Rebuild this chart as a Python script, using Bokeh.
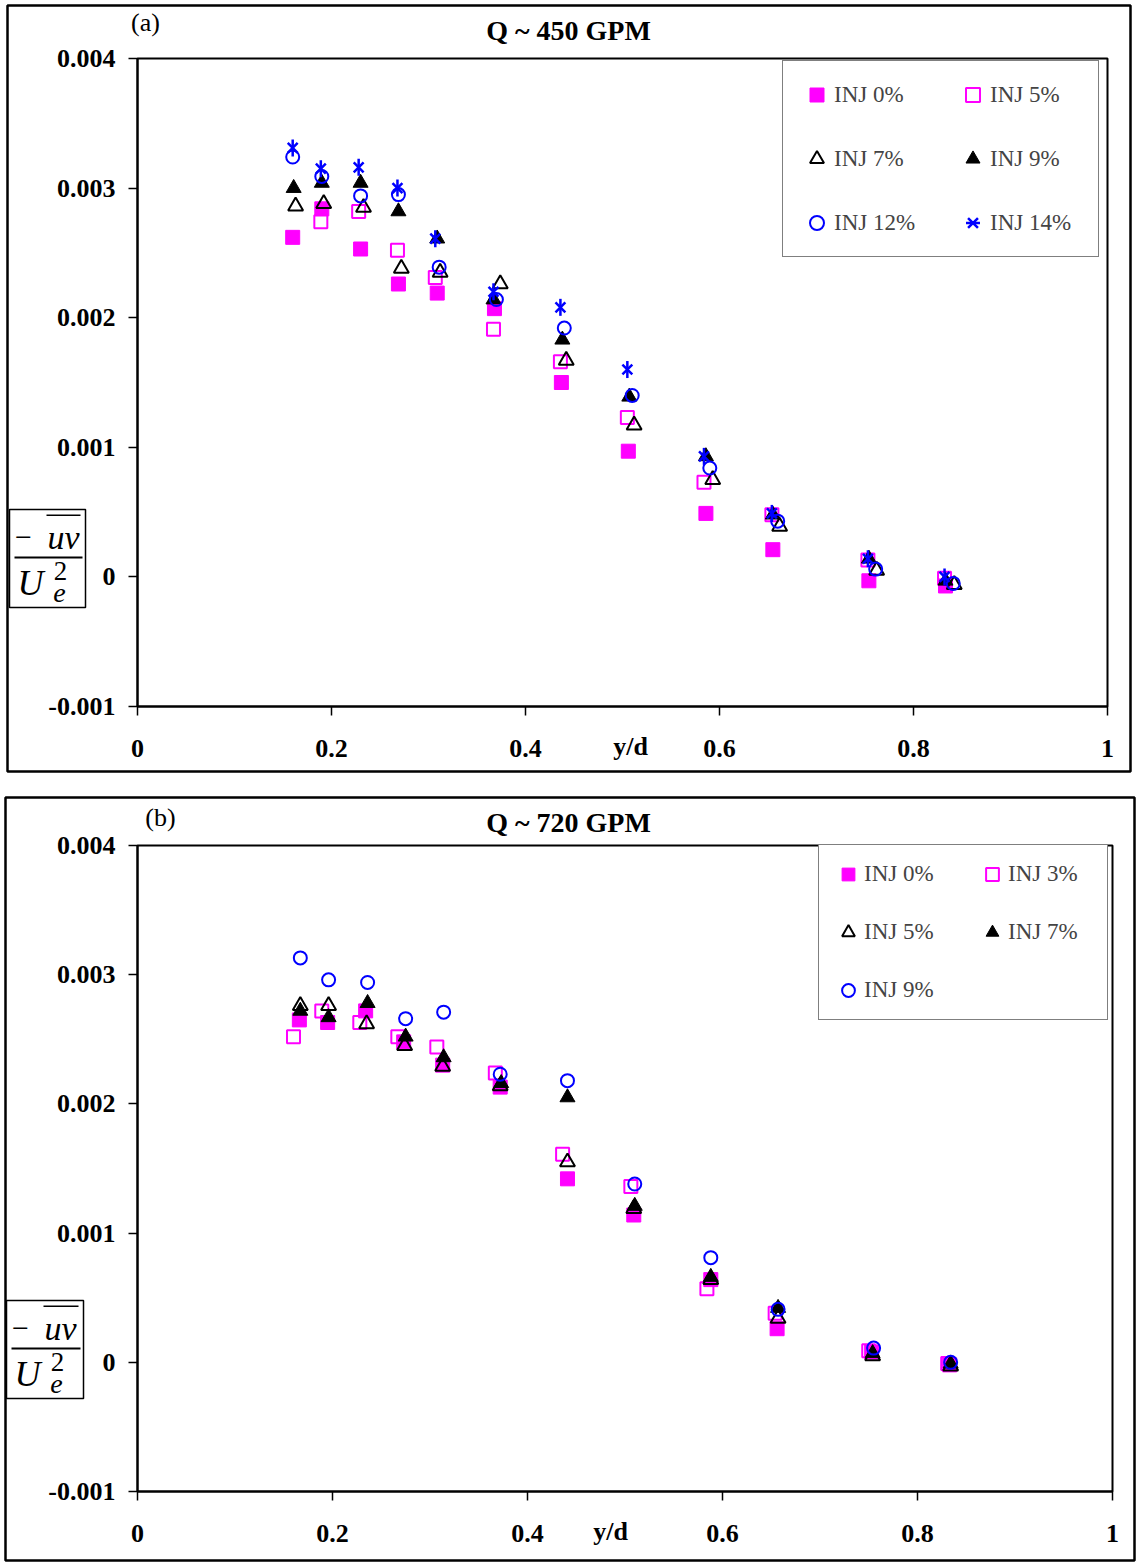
import math
from bokeh.plotting import figure
from bokeh.models import Range1d, FixedTicker, Legend, LegendItem, Label, BoxAnnotation, GridBox
from bokeh.layouts import column
from bokeh.embed import file_html
from bokeh.resources import INLINE

MAG = "#FF00FF"
BLUE = "#0000FF"
BLK = "#000000"
FONT = "Liberation Serif"

# ---------------- data: panel (a) Q ~ 450 GPM ----------------
a_inj0_x = [0.160, 0.190, 0.230, 0.269, 0.309, 0.368, 0.437, 0.506, 0.586, 0.655, 0.754, 0.833]
a_inj0_y = [0.00262, 0.00284, 0.00253, 0.00226, 0.00219, 0.00207, 0.00150, 0.00097, 0.00049, 0.00021, -0.00003, -0.00007]
a_inj5_x = [0.189, 0.228, 0.268, 0.307, 0.367, 0.436, 0.505, 0.584, 0.654, 0.753, 0.832]
a_inj5_y = [0.00274, 0.00282, 0.00252, 0.00231, 0.00191, 0.00166, 0.00123, 0.00073, 0.00048, 0.00013, -0.00001]
a_inj7_x = [0.163, 0.192, 0.233, 0.272, 0.312, 0.374, 0.442, 0.512, 0.593, 0.662, 0.762, 0.842]
a_inj7_y = [0.00286, 0.00288, 0.00285, 0.00238, 0.00235, 0.00226, 0.00167, 0.00117, 0.00075, 0.00039, 0.00005, -0.00006]
a_inj9_x = [0.161, 0.190, 0.230, 0.269, 0.309, 0.367, 0.438, 0.507, 0.586, 0.655, 0.754, 0.833]
a_inj9_y = [0.00300, 0.00304, 0.00304, 0.00282, 0.00261, 0.00214, 0.00183, 0.00139, 0.00093, 0.00048, 0.00014, -0.00003]
a_inj12_x = [0.160, 0.190, 0.230, 0.269, 0.311, 0.370, 0.440, 0.510, 0.590, 0.660, 0.761, 0.841]
a_inj12_y = [0.00324, 0.00309, 0.00294, 0.00295, 0.00239, 0.00214, 0.00192, 0.00140, 0.00084, 0.00043, 0.00006, -0.00005]
a_inj14_x = [0.160, 0.189, 0.228, 0.268, 0.307, 0.367, 0.436, 0.505, 0.584, 0.654, 0.753, 0.832]
a_inj14_y = [0.00331, 0.00315, 0.00316, 0.00300, 0.00261, 0.00220, 0.00208, 0.00160, 0.00093, 0.00049, 0.00014, 0.00000]

# ---------------- data: panel (b) Q ~ 720 GPM ----------------
b_inj0_x = [0.166, 0.195, 0.234, 0.273, 0.313, 0.372, 0.441, 0.509, 0.588, 0.656, 0.753, 0.833]
b_inj0_y = [0.00265, 0.00263, 0.00272, 0.00248, 0.00230, 0.00213, 0.00142, 0.00114, 0.00064, 0.00026, 0.00008, -0.00002]
b_inj3_x = [0.160, 0.189, 0.228, 0.267, 0.307, 0.367, 0.436, 0.506, 0.584, 0.654, 0.750, 0.831]
b_inj3_y = [0.00252, 0.00272, 0.00263, 0.00252, 0.00244, 0.00224, 0.00161, 0.00136, 0.00057, 0.00038, 0.00009, -0.00001]
b_inj5_x = [0.167, 0.196, 0.235, 0.274, 0.313, 0.372, 0.441, 0.509, 0.588, 0.657, 0.754, 0.834]
b_inj5_y = [0.00276, 0.00276, 0.00262, 0.00245, 0.00229, 0.00214, 0.00155, 0.00119, 0.00064, 0.00034, 0.00005, -0.00003]
b_inj7_x = [0.167, 0.196, 0.236, 0.275, 0.314, 0.373, 0.441, 0.510, 0.588, 0.657, 0.754, 0.834]
b_inj7_y = [0.00272, 0.00267, 0.00278, 0.00252, 0.00236, 0.00216, 0.00205, 0.00121, 0.00066, 0.00042, 0.00007, -0.00001]
b_inj9_x = [0.167, 0.196, 0.236, 0.275, 0.314, 0.372, 0.441, 0.510, 0.588, 0.657, 0.755, 0.834]
b_inj9_y = [0.00313, 0.00296, 0.00294, 0.00266, 0.00271, 0.00223, 0.00218, 0.00138, 0.00081, 0.00041, 0.00011, 0.00000]

y_ticks = [-0.001, 0.0, 0.001, 0.002, 0.003, 0.004]
y_tick_labels = ["-0.001", "0", "0.001", "0.002", "0.003", "0.004"]
x_ticks = [0.0, 0.2, 0.4, 0.6, 0.8, 1.0]
x_tick_labels = ["0", "0.2", "0.4", "0.6", "0.8", "1"]

W = 1136


def draw_series(p, x, y, style):
    rs = []
    if style == "fsq":
        rs.append(p.scatter(x, y, marker="square", size=14, fill_color=MAG, line_color=MAG, line_width=1))
    elif style == "osq":
        rs.append(p.scatter(x, y, marker="square", size=13, fill_color=None, line_color=MAG, line_width=2))
    elif style == "otri":
        rs.append(p.scatter(x, y, marker="triangle", size=15, fill_color=None, line_color=BLK, line_width=2))
    elif style == "ftri":
        rs.append(p.scatter(x, y, marker="triangle", size=15, fill_color=BLK, line_color=BLK, line_width=1))
    elif style == "ocir":
        rs.append(p.scatter(x, y, marker="circle", size=13, fill_color=None, line_color=BLUE, line_width=2))
    elif style == "star":
        rs.append(p.scatter(x, y, marker="x", size=14, line_color=BLUE, line_width=2.5))
        rs.append(p.scatter(x, y, marker="dash", size=17, angle=math.pi / 2, line_color=BLUE, line_width=2.5))
    return rs


def make_panel(height, frame_top, frame_bottom, right_margin, series, legend_order, leg):
    p = figure(width=W, height=height, output_backend="svg", toolbar_location=None,
               title=None, x_range=Range1d(0, 1), y_range=Range1d(-0.001, 0.004),
               min_border_left=137, min_border_right=right_margin,
               min_border_top=frame_top, min_border_bottom=height - frame_bottom,
               background_fill_color="white", border_fill_color="white")
    p.xgrid.visible = False
    p.ygrid.visible = False
    p.outline_line_color = BLK
    p.outline_line_width = 2
    p.outline_line_alpha = 1

    for ax, ticks, labels in ((p.xaxis[0], x_ticks, x_tick_labels), (p.yaxis[0], y_ticks, y_tick_labels)):
        ax.ticker = FixedTicker(ticks=ticks)
        ax.major_label_overrides = {t: s for t, s in zip(ticks, labels)}
        ax.axis_line_color = BLK
        ax.axis_line_width = 2
        ax.major_tick_line_color = BLK
        ax.major_tick_line_width = 1.5
        ax.major_tick_out = 9
        ax.major_tick_in = 0
        ax.minor_tick_line_color = None
        ax.major_label_text_font = FONT
        ax.major_label_text_font_style = "bold"
        ax.major_label_text_font_size = "26px"
        ax.major_label_text_color = BLK
    p.xaxis.major_label_standoff = 24
    p.yaxis.major_label_standoff = 13

    items = []
    for (x, y, style, label) in series:
        rs = draw_series(p, x, y, style)
        items.append(LegendItem(label=label, renderers=rs))
    items = [items[i] for i in legend_order]

    legend = Legend(items=items, ncols=2, location=leg["loc"],
                    glyph_width=leg["g"], glyph_height=leg["g"], spacing=leg["s"],
                    padding=leg["p"], label_width=leg["lw"], label_standoff=0, margin=0,
                    label_text_font=FONT, label_text_font_size=leg["fs"],
                    border_line_color=BLK, border_line_width=1.5,
                    background_fill_color="white", background_fill_alpha=1)
    p.add_layout(legend, "center")
    return p


def make_overlay(height, title, tag, tag_xy, title_xy, outer, ybox, yd_xy):
    """Transparent page-level layer (frame = whole canvas) for the panel border,
    title, panel tag, x label and the boxed y label; coordinates are pixels."""
    o = figure(width=W, height=height, output_backend="svg", toolbar_location=None,
               title=None, x_range=Range1d(0, W), y_range=Range1d(0, height),
               x_axis_location=None, y_axis_location=None, min_border=0,
               background_fill_alpha=0, border_fill_alpha=0, outline_line_color=None)
    o.grid.visible = False

    def Y(v):
        return height - v

    def box(l, r, t, b, **kw):
        o.add_layout(BoxAnnotation(left=l, right=r, top=Y(t), bottom=Y(b), **kw))

    def text(x, y, s, size, style="normal", align="center", baseline="middle"):
        o.add_layout(Label(x=x, y=Y(y), text=s, text_font=FONT, text_font_style=style,
                           text_font_size=size, text_align=align, text_baseline=baseline,
                           text_color=BLK))

    box(*outer, fill_alpha=0, line_color=BLK, line_width=2.5, line_alpha=1)
    text(title_xy[0], title_xy[1], title, "28px", "bold")
    text(tag_xy[0], tag_xy[1], tag, "26px")
    text(yd_xy[0], yd_xy[1], "y/d", "26px", "bold")

    l, r, t, b = ybox
    box(l, r, t, b, fill_color="white", fill_alpha=1, line_color=BLK, line_width=1.5, line_alpha=1)
    box(l + 5, r - 3, t + 47, t + 49, fill_color=BLK, fill_alpha=1, line_alpha=0)
    box(l + 37, r - 5, t + 5, t + 6.5, fill_color=BLK, fill_alpha=1, line_alpha=0)
    text(l + 14, t + 28, "\u2212", "30px", baseline="alphabetic")
    text(l + 54, t + 28, "uv", "34px", "italic", baseline="alphabetic")
    text(l + 21, t + 73, "U", "36px", "italic", baseline="alphabetic")
    text(l + 51, t + 61, "2", "27px", baseline="alphabetic")
    text(l + 50, t + 83, "e", "28px", "italic", baseline="alphabetic")
    return o


series_a = [
    (a_inj0_x, a_inj0_y, "fsq", "INJ 0%"),
    (a_inj5_x, a_inj5_y, "osq", "INJ 5%"),
    (a_inj7_x, a_inj7_y, "otri", "INJ 7%"),
    (a_inj9_x, a_inj9_y, "ftri", "INJ 9%"),
    (a_inj12_x, a_inj12_y, "ocir", "INJ 12%"),
    (a_inj14_x, a_inj14_y, "star", "INJ 14%"),
]
series_b = [
    (b_inj0_x, b_inj0_y, "fsq", "INJ 0%"),
    (b_inj3_x, b_inj3_y, "osq", "INJ 3%"),
    (b_inj5_x, b_inj5_y, "otri", "INJ 5%"),
    (b_inj7_x, b_inj7_y, "ftri", "INJ 7%"),
    (b_inj9_x, b_inj9_y, "ocir", "INJ 9%"),
]

HA, HB = 785, 779
pa = make_panel(HA, 58, 706, 29, series_a, [0, 2, 4, 1, 3, 5],
                dict(loc=(645, 449), g=35, s=29, p=16, lw=92, fs="23px"))
oa = make_overlay(HA, "Q ~ 450 GPM", "(a)", (145, 22), (568, 30),
                  (7, 1130, 5, 771), (9, 85, 509, 607), (630, 746))
pb = make_panel(HB, 60, 706, 24, series_b, [0, 2, 4, 1, 3],
                dict(loc=(681, 471), g=32, s=26, p=13, lw=86, fs="23px"))
ob = make_overlay(HB, "Q ~ 720 GPM", "(b)", (160, 32), (568, 37),
                  (5, 1134, 12, 775), (6, 83, 515, 613), (610, 746))

# each figure wrapped in its own column so that the grid does not align their frames
grid = GridBox(children=[(column(pa), 0, 0), (column(oa), 0, 0),
                         (column(pb), 1, 0), (column(ob), 1, 0)], spacing=0)
open("out.html", "w").write(file_html(grid, INLINE))
